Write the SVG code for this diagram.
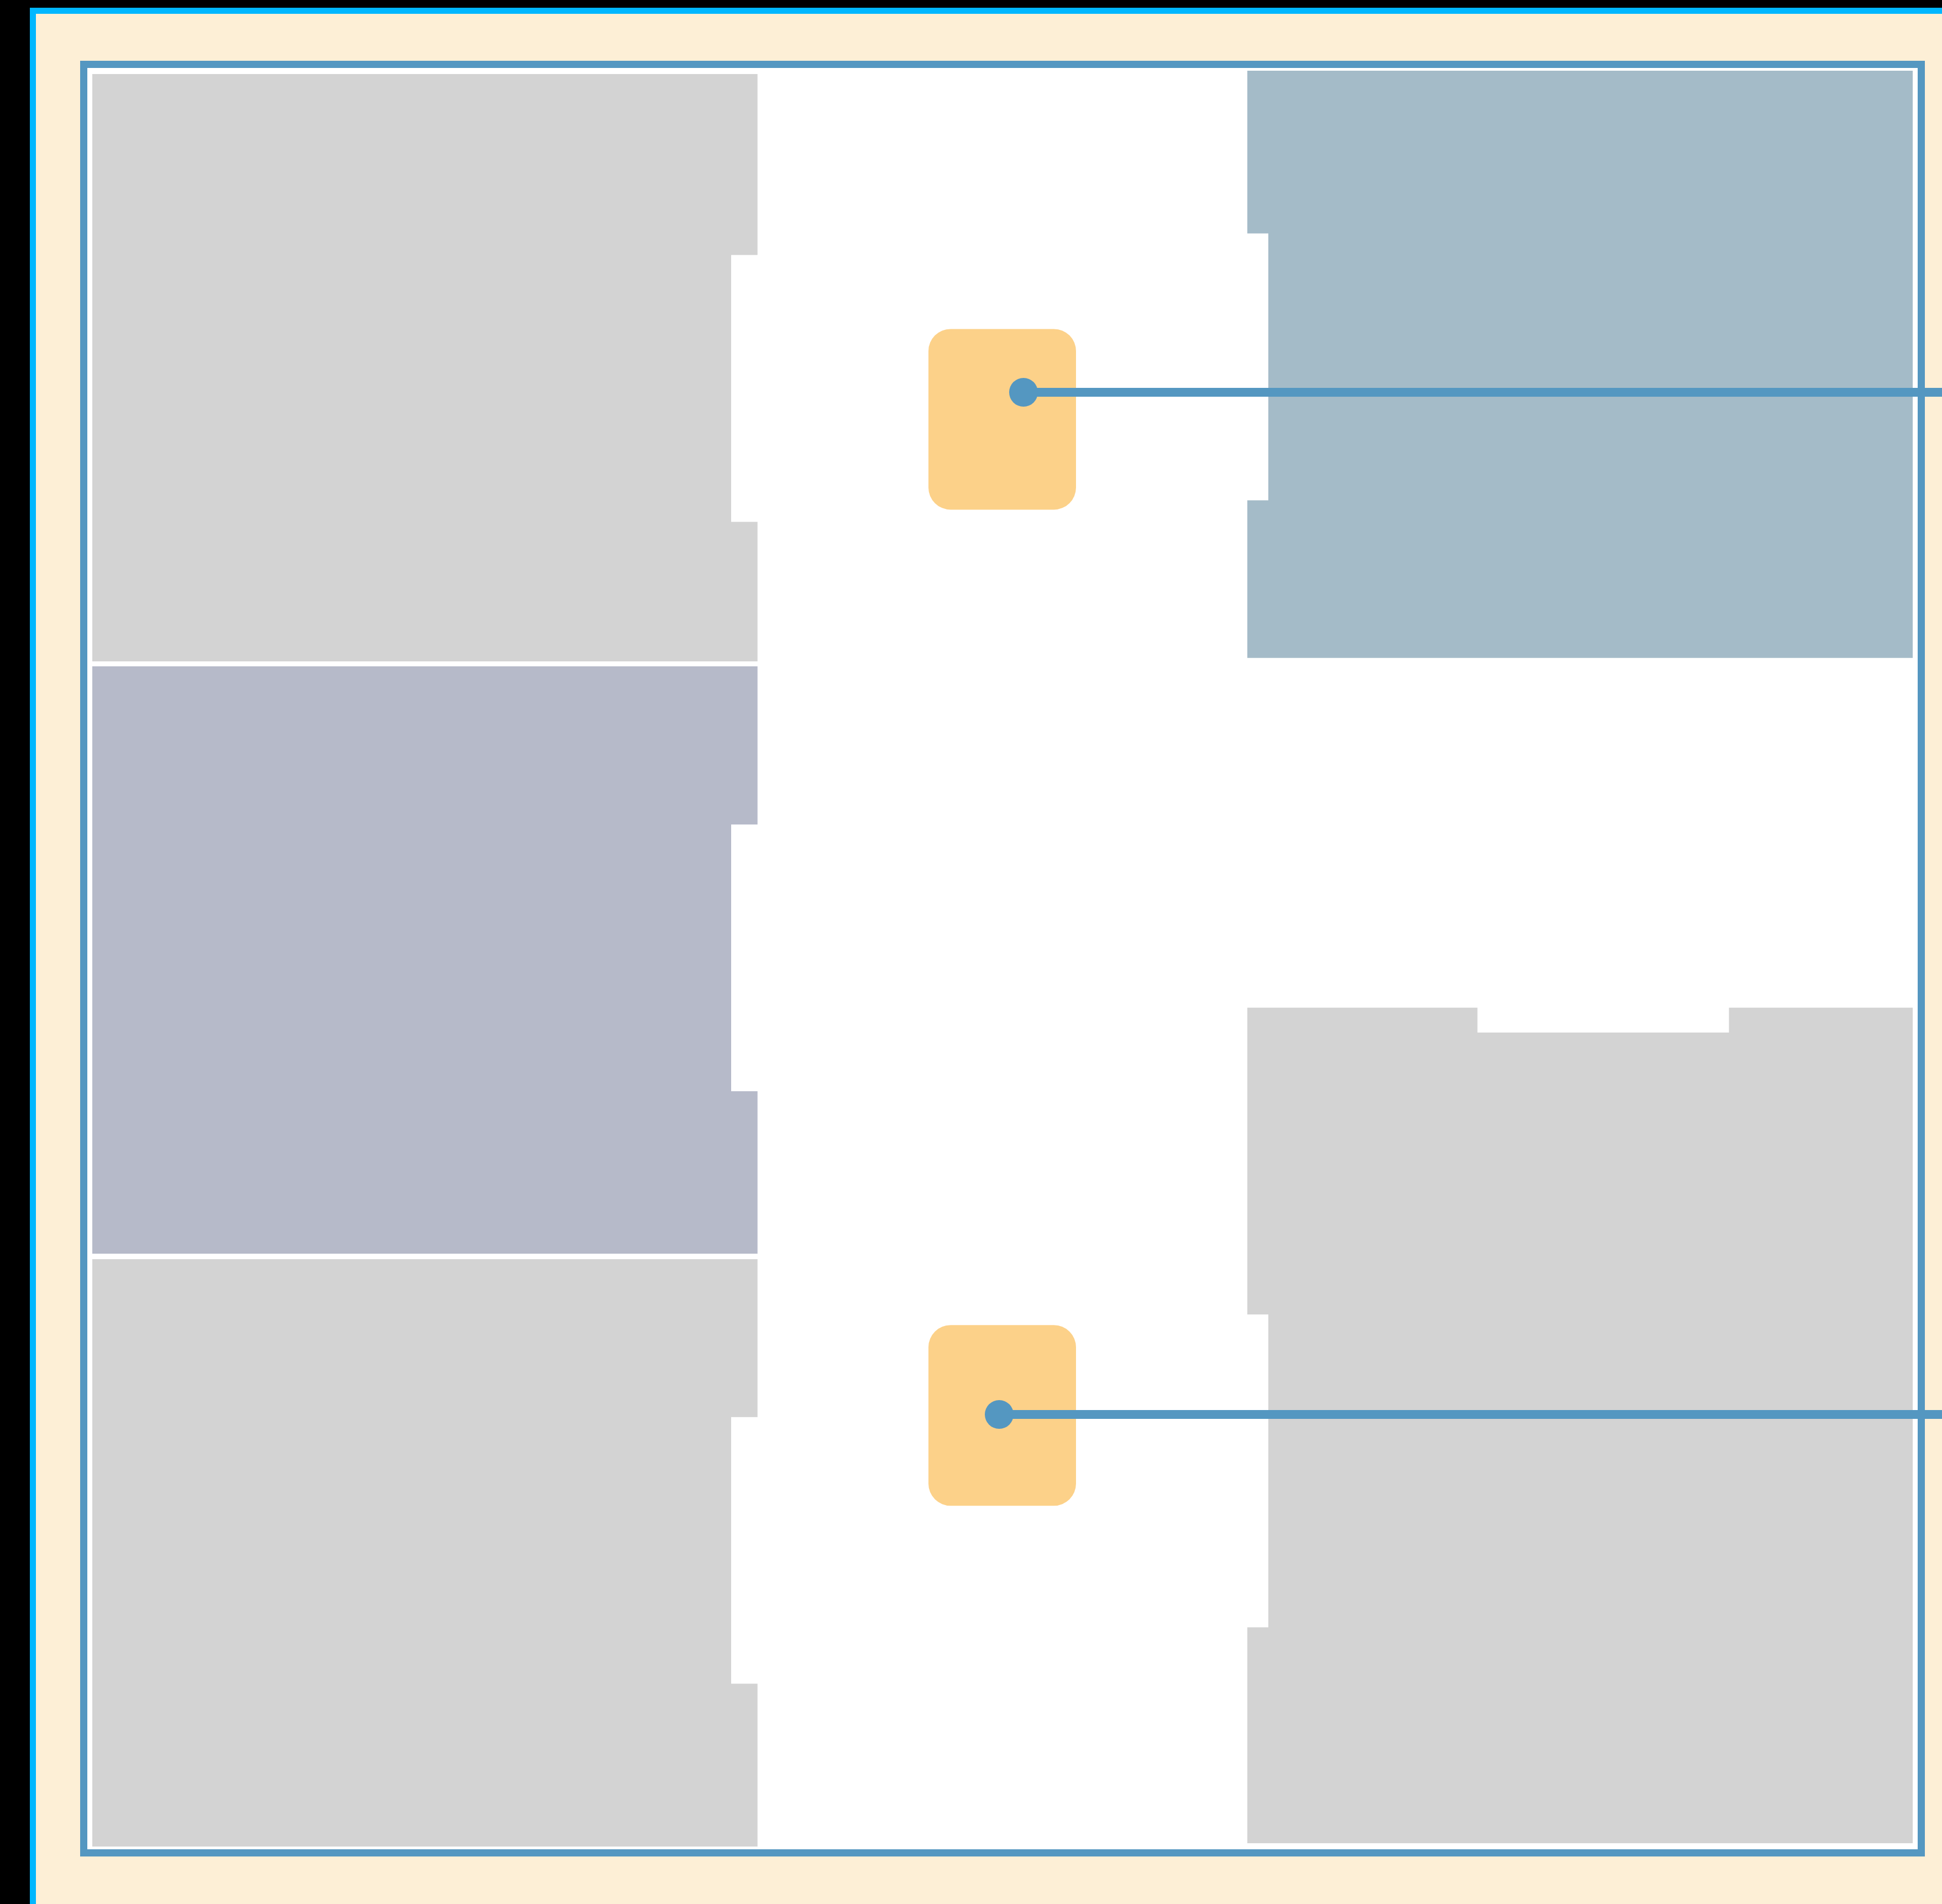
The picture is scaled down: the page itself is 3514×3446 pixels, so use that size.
<svg xmlns="http://www.w3.org/2000/svg" width="3514" height="3446" viewBox="0 0 3514 3446">
<style>
.gray{fill:#D3D3D3}
.slate{fill:#B6BAC9}
.steel{fill:#A4BBC8}
.node{fill:#FCD189}
.dot{fill:#5497C1}
.edge{stroke:#5497C1;stroke-width:16;fill:none}
</style>
<rect x="0" y="0" width="3514" height="3446" fill="#000000"/>
<rect x="59.5" y="19.5" width="3470" height="3432" fill="#FDEFD6" stroke="#00B7FF" stroke-width="11"/>
<rect id="frame" x="151.5" y="116.5" width="3325" height="3237" fill="#FFFFFF" stroke="#5497C1" stroke-width="13"/>
<g id="panel-left-1"><path class="gray" d="M167,134 H1370.7 V461.5 H1323 V944.4 H1370.7 V1197 H167 Z"/></g>
<g id="panel-left-2"><path class="slate" d="M167,1206 H1370.7 V1492.3 H1323 V1975 H1370.7 V2269 H167 Z"/></g>
<g id="panel-left-3"><path class="gray" d="M167,2279 H1370.7 V2564.7 H1323 V3047.3 H1370.7 V3342 H167 Z"/></g>
<g id="panel-right-1"><path class="steel" d="M2257,128 H3461 V1190.7 H2257 V905.4 H2295 V422.5 H2257 Z"/></g>
<g id="panel-right-2"><path class="gray" d="M2257,1823.7 H2673.4 V1868.7 H3128.5 V1823.7 H3461 V3336 H2257 V2945.3 H2295 V2379 H2257 Z"/></g>
<g id="node-1"><rect class="node" x="1680" y="595.4" width="267" height="327" rx="40" ry="40"/></g>
<g id="node-2"><rect class="node" x="1680" y="2398.3" width="267" height="327" rx="40" ry="40"/></g>
<g id="connectors">
<line class="edge" x1="1852" y1="710" x2="3514" y2="710"/>
<circle class="dot" cx="1852" cy="710" r="26"/>
<line class="edge" x1="1808" y1="2560" x2="3514" y2="2560"/>
<circle class="dot" cx="1808" cy="2560" r="26"/>
</g>
</svg>
